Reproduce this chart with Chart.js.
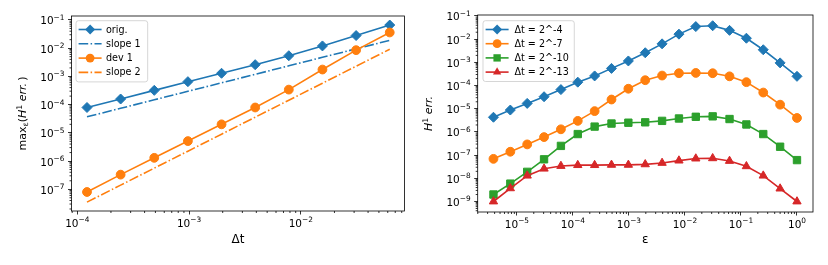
<!DOCTYPE html>
<html>
<head>
<meta charset="utf-8">
<script src="https://cdn.jsdelivr.net/npm/chart.js@4.4.0/dist/chart.umd.min.js"></script>
<style>
  html, body { margin: 0; padding: 0; background: #fff; }
  #wrap { position: relative; width: 828px; height: 265px; }
  .panel { position: absolute; top: 0; width: 414px; height: 265px; }
</style>
</head>
<body>
<div id="wrap">
  <div class="panel" style="left:0"><canvas id="convChart"></canvas></div>
  <div class="panel" style="left:414px"><canvas id="epsChart"></canvas></div>
</div>
<script>
// Panel izquierdo: error frente a Δt (2^-13 ... 2^-4)
const dtValues = [0.0001220703125, 0.000244140625, 0.00048828125, 0.0009765625, 0.001953125,
                  0.00390625, 0.0078125, 0.015625, 0.03125, 0.0625];
const origErr = [7.9e-5, 1.58e-4, 3.2e-4, 6.5e-4, 1.29e-3, 2.6e-3, 5.4e-3, 1.2e-2, 2.8e-2, 6.6e-2];
const slope1 = [3.7e-5, 7.4e-5, 1.48e-4, 2.96e-4, 5.92e-4, 1.18e-3, 2.37e-3, 4.74e-3, 9.47e-3, 1.89e-2];
const dev1Err = [8.0e-8, 3.3e-7, 1.3e-6, 5.1e-6, 2.0e-5, 7.9e-5, 3.4e-4, 1.75e-3, 8.5e-3, 3.6e-2];
const slope2 = [3.5e-8, 1.4e-7, 5.6e-7, 2.24e-6, 8.96e-6, 3.58e-5, 1.43e-4, 5.73e-4, 2.29e-3, 9.17e-3];
const dtTicks = [1e-4, 1e-3, 1e-2];
const convTicks = [1e-7, 1e-6, 1e-5, 1e-4, 1e-3, 1e-2, 1e-1];

// Panel derecho: error H1 frente a ε (2^-18 ... 2^0)
const epsValues = [3.814697265625e-6, 7.62939453125e-6, 1.52587890625e-5, 3.0517578125e-5, 6.103515625e-5,
                   1.220703125e-4, 2.44140625e-4, 4.8828125e-4, 9.765625e-4, 1.953125e-3, 3.90625e-3,
                   7.8125e-3, 1.5625e-2, 3.125e-2, 6.25e-2, 0.125, 0.25, 0.5, 1];
const errDt4 = [4.3e-6, 8.8e-6, 1.7e-5, 3.3e-5, 6.7e-5, 1.4e-4, 2.6e-4, 5.5e-4, 1.15e-3, 2.6e-3,
                6.3e-3, 1.65e-2, 3.5e-2, 3.8e-2, 2.4e-2, 1.1e-2, 3.5e-3, 9.5e-4, 2.5e-4];
const errDt7 = [6.9e-8, 1.4e-7, 2.9e-7, 6.0e-7, 1.3e-6, 3.0e-6, 7.9e-6, 2.5e-5, 7.3e-5, 1.7e-4,
                2.7e-4, 3.4e-4, 3.5e-4, 3.4e-4, 2.5e-4, 1.4e-4, 5.0e-5, 1.5e-5, 4.0e-6];
const errDt10 = [2.0e-9, 5.9e-9, 1.9e-8, 6.6e-8, 2.5e-7, 8.1e-7, 1.7e-6, 2.3e-6, 2.5e-6, 2.6e-6,
                 3.0e-6, 3.8e-6, 4.5e-6, 4.7e-6, 3.6e-6, 2.1e-6, 8.1e-7, 2.3e-7, 6.1e-8];
const errDt13 = [1.0e-9, 3.7e-9, 1.3e-8, 2.6e-8, 3.4e-8, 3.7e-8, 3.7e-8, 3.8e-8, 3.8e-8, 4.0e-8,
                 4.6e-8, 5.8e-8, 7.1e-8, 7.3e-8, 5.6e-8, 3.3e-8, 1.3e-8, 3.6e-9, 1.0e-9];
const epsTicks = [1e-5, 1e-4, 1e-3, 1e-2, 1e-1, 1];
const errTicks = [1e-9, 1e-8, 1e-7, 1e-6, 1e-5, 1e-4, 1e-3, 1e-2, 1e-1];

const blue = '#1f77b4', orange = '#ff7f0e', green = '#2ca02c', red = '#d62728';
const dashDot = [9.6, 2.4, 1.5, 2.4];
const FONT = 'DejaVu Sans';

function expText(v) {
    return String(Math.round(Math.log10(v))).replace('-', '\u2212');
}

function pts(xs, ys) {
    return xs.map((x, i) => ({x: x, y: ys[i]}));
}

function serie(label, xs, ys, color, style, radius, order, dash) {
    return {
        label: label,
        data: pts(xs, ys),
        borderColor: color,
        backgroundColor: color,
        borderWidth: 1.6,
        borderDash: dash || [],
        pointStyle: style || 'circle',
        pointRadius: style ? radius : 0,
        pointBackgroundColor: color,
        pointBorderColor: color,
        pointBorderWidth: 1,
        tension: 0,
        order: order
    };
}

function logAxis(min, max, tickList, fitKey, fitVal, extra) {
    return Object.assign({
        type: 'logarithmic',
        min: min,
        max: max,
        border: { display: false },
        grid: { drawOnChartArea: false, drawTicks: true, tickLength: 3.5, tickColor: '#000', tickWidth: 0.8 },
        ticks: { display: false, autoSkip: false },
        afterBuildTicks: s => { s.ticks = tickList.map(v => ({ value: v })); },
        afterFit: s => { s[fitKey] = fitVal; }
    }, extra || {});
}

function drawMarker(ctx, style, x, y, r, color) {
    ctx.fillStyle = color;
    ctx.beginPath();
    if (style === 'rectRot') {
        ctx.moveTo(x - r, y); ctx.lineTo(x, y - r); ctx.lineTo(x + r, y); ctx.lineTo(x, y + r);
    } else if (style === 'rect') {
        const s = r * Math.SQRT1_2;
        ctx.rect(x - s, y - s, 2 * s, 2 * s);
    } else if (style === 'triangle') {
        for (let k = 0; k < 3; k++) {
            const a = k * 2 * Math.PI / 3;
            const px = x + Math.sin(a) * r, py = y - Math.cos(a) * r;
            if (k === 0) ctx.moveTo(px, py); else ctx.lineTo(px, py);
        }
    } else {
        ctx.arc(x, y, r, 0, Math.PI * 2);
    }
    ctx.closePath();
    ctx.fill();
}

// texto con sub/superíndices; align: 'center' | 'right'
function drawRich(ctx, parts, x, y, rotate, align) {
    ctx.save();
    ctx.translate(x, y);
    if (rotate) ctx.rotate(-Math.PI / 2);
    ctx.fillStyle = '#000';
    ctx.textBaseline = 'alphabetic';
    let total = 0;
    parts.forEach(p => { ctx.font = p.font; p.w = ctx.measureText(p.t).width; total += p.w; });
    let cx = align === 'right' ? -total : -total / 2;
    parts.forEach(p => { ctx.font = p.font; ctx.fillText(p.t, cx, 4 + (p.dy || 0)); cx += p.w; });
    ctx.restore();
}

function tickParts(v) {
    return [
        { t: '10', font: '10.5px ' + FONT },
        { t: expText(v), font: '7.4px ' + FONT, dy: -4.6 }
    ];
}

// Marco, ticks menores, etiquetas, leyenda y título del eje y al estilo matplotlib
const mplStyle = {
    id: 'mplStyle',
    afterDraw(chart, args, opts) {
        const ctx = chart.ctx;
        const a = chart.chartArea;
        ctx.save();
        ctx.strokeStyle = '#000';
        ctx.lineWidth = 0.8;
        ['x', 'y'].forEach(id => {
            const s = chart.scales[id];
            const lo = Math.floor(Math.log10(s.min)), hi = Math.ceil(Math.log10(s.max));
            for (let k = lo; k <= hi; k++) {
                for (let m = 2; m <= 9; m++) {
                    const v = m * Math.pow(10, k);
                    if (v <= s.min || v >= s.max) continue;
                    const p = s.getPixelForValue(v);
                    ctx.beginPath();
                    if (id === 'x') { ctx.moveTo(p, a.bottom); ctx.lineTo(p, a.bottom + 2); }
                    else { ctx.moveTo(a.left, p); ctx.lineTo(a.left - 2, p); }
                    ctx.stroke();
                }
            }
        });
        ctx.strokeRect(a.left, a.top, a.right - a.left, a.bottom - a.top);
        ctx.restore();

        // etiquetas de los ticks mayores
        chart.scales.x.ticks.forEach(t => {
            drawRich(ctx, tickParts(t.value), chart.scales.x.getPixelForValue(t.value), a.bottom + 11.5, false, 'center');
        });
        chart.scales.y.ticks.forEach(t => {
            drawRich(ctx, tickParts(t.value), a.left - 7, chart.scales.y.getPixelForValue(t.value) + 0.5, false, 'right');
        });

        // leyenda
        ctx.save();
        const lg = opts.legend;
        ctx.font = '9.6px ' + FONT;
        let tw = 0;
        lg.items.forEach(it => { tw = Math.max(tw, ctx.measureText(it.label).width); });
        const bx = a.left + lg.dx, by = a.top + lg.dy;
        const bw = lg.textOff + tw + lg.padR, bh = lg.rowH * lg.items.length + 4;
        ctx.fillStyle = 'rgba(255,255,255,0.8)';
        ctx.strokeStyle = 'rgba(204,204,204,0.8)';
        ctx.lineWidth = 1;
        ctx.beginPath();
        ctx.roundRect(bx, by, bw, bh, 2.5);
        ctx.fill();
        ctx.stroke();
        lg.items.forEach((it, i) => {
            const y = by + 8.8 + i * lg.rowH;
            const x0 = bx + 2.6, x1 = x0 + 23;
            ctx.strokeStyle = it.color;
            ctx.lineWidth = 1.6;
            ctx.setLineDash(it.dash || []);
            ctx.beginPath(); ctx.moveTo(x0, y); ctx.lineTo(x1, y); ctx.stroke();
            ctx.setLineDash([]);
            if (it.style) drawMarker(ctx, it.style, (x0 + x1) / 2, y, it.r, it.color);
            ctx.fillStyle = '#000';
            ctx.textBaseline = 'middle';
            ctx.font = '9.6px ' + FONT;
            ctx.fillText(it.label, bx + lg.textOff, y + 0.5);
        });
        ctx.restore();

        drawRich(ctx, opts.yTitle.parts, opts.yTitle.x, (a.top + a.bottom) / 2 + (opts.yTitle.dy || 0), true, 'center');
    }
};

const commonOpts = {
    responsive: false,
    animation: false,
    events: [],
    plugins: { legend: { display: false }, tooltip: { enabled: false } }
};

function makeCanvas(id) {
    const c = document.getElementById(id);
    c.width = 414; c.height = 265;
    c.style.width = '414px'; c.style.height = '265px';
    return c.getContext('2d');
}

// Gráfica izquierda
new Chart(makeCanvas('convChart'), {
    type: 'line',
    data: {
        datasets: [
            serie('orig.', dtValues, origErr, blue, 'rectRot', 5, 4),
            serie('slope 1', dtValues, slope1, blue, null, 0, 3, dashDot),
            serie('dev 1', dtValues, dev1Err, orange, 'circle', 4.4, 2),
            serie('slope 2', dtValues, slope2, orange, null, 0, 1, dashDot)
        ]
    },
    options: Object.assign({}, commonOpts, {
        layout: { padding: { top: 16, right: 9.5, left: 0, bottom: 0 } },
        scales: {
            x: logAxis(Math.pow(10, -4.052), Math.pow(10, -1.072), dtTicks, 'height', 54, {
                title: { display: true, text: '\u0394t', color: '#000', font: { family: FONT, size: 12 },
                         padding: { top: 0, bottom: 18 } }
            }),
            y: logAxis(Math.pow(10, -7.77), Math.pow(10, -0.86), convTicks, 'width', 71.5)
        },
        plugins: Object.assign({}, commonOpts.plugins, {
            mplStyle: {
                legend: {
                    dx: 4.5, dy: 4.7, rowH: 14.3, textOff: 30, padR: 7,
                    items: [
                        { label: 'orig.', color: blue, style: 'rectRot', r: 5 },
                        { label: 'slope 1', color: blue, dash: dashDot },
                        { label: 'dev 1', color: orange, style: 'circle', r: 4.4 },
                        { label: 'slope 2', color: orange, dash: dashDot }
                    ]
                },
                yTitle: {
                    x: 22,
                    parts: [
                        { t: 'max', font: '11px ' + FONT },
                        { t: '\u03b5', font: '7.7px ' + FONT, dy: 2.4 },
                        { t: '(', font: '11px ' + FONT },
                        { t: 'H', font: 'italic 11px ' + FONT },
                        { t: '1', font: '7.7px ' + FONT, dy: -4.4 },
                        { t: ' err.', font: 'italic 11px ' + FONT },
                        { t: '\u2009)', font: '11px ' + FONT }
                    ]
                }
            }
        })
    }),
    plugins: [mplStyle]
});

// Gráfica derecha
new Chart(makeCanvas('epsChart'), {
    type: 'line',
    data: {
        datasets: [
            serie('\u0394t = 2^-4', epsValues, errDt4, blue, 'rectRot', 5, 4),
            serie('\u0394t = 2^-7', epsValues, errDt7, orange, 'circle', 4.4, 3),
            serie('\u0394t = 2^-10', epsValues, errDt10, green, 'rect', 5.2, 2),
            serie('\u0394t = 2^-13', epsValues, errDt13, red, 'triangle', 4.8, 1)
        ]
    },
    options: Object.assign({}, commonOpts, {
        layout: { padding: { top: 15, right: 15, left: 0, bottom: 0 } },
        scales: {
            x: logAxis(Math.pow(10, -5.70), Math.pow(10, 0.286), epsTicks, 'height', 53, {
                title: { display: true, text: '\u03b5', color: '#000', font: { family: FONT, size: 12 },
                         padding: { top: 0, bottom: 18 } }
            }),
            y: logAxis(Math.pow(10, -9.453), Math.pow(10, -0.957), errTicks, 'width', 63.7)
        },
        plugins: Object.assign({}, commonOpts.plugins, {
            mplStyle: {
                legend: {
                    dx: 5.3, dy: 5.7, rowH: 14.2, textOff: 31.5, padR: 5.5,
                    items: [
                        { label: '\u0394t = 2^-4', color: blue, style: 'rectRot', r: 5 },
                        { label: '\u0394t = 2^-7', color: orange, style: 'circle', r: 4.4 },
                        { label: '\u0394t = 2^-10', color: green, style: 'rect', r: 5.2 },
                        { label: '\u0394t = 2^-13', color: red, style: 'triangle', r: 4.8 }
                    ]
                },
                yTitle: {
                    x: 14,
                    parts: [
                        { t: 'H', font: 'italic 11px ' + FONT },
                        { t: '1', font: '7.7px ' + FONT, dy: -4.4 },
                        { t: ' err.', font: 'italic 11px ' + FONT }
                    ]
                }
            }
        })
    }),
    plugins: [mplStyle]
});
</script>
</body>
</html>
